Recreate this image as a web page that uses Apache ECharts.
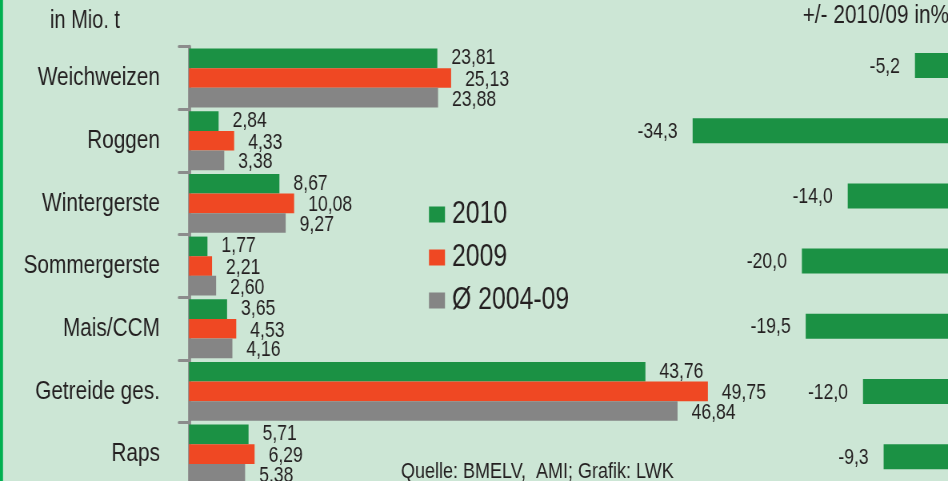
<!DOCTYPE html>
<html>
<head>
<meta charset="utf-8">
<script src="https://cdn.jsdelivr.net/npm/echarts@6/dist/echarts.min.js"></script>
<style>
html,body{margin:0;padding:0;background:#cce6d5;overflow:hidden;width:948px;height:481px;}
#c{width:1185px;height:481px;transform:scaleX(0.8);transform-origin:0 0;}
</style>
</head>
<body>
<div id="c"></div>
<script>
const categories = ['Weichweizen','Roggen','Wintergerste','Sommergerste','Mais/CCM','Getreide ges.','Raps'];
const v2010 = [23.81, 2.84, 8.67, 1.77, 3.65, 43.76, 5.71];
const v2009 = [25.13, 4.33, 10.08, 2.21, 4.53, 49.75, 6.29];
const vAvg  = [23.88, 3.38, 9.27, 2.60, 4.16, 46.84, 5.38];
const change = [-5.2, -34.3, -14.0, -20.0, -19.5, -12.0, -9.3];
const seriesNames = ['2010', '2009', 'Ø 2004-09'];

// horizontal condensing of the whole drawing (the reference uses a condensed typeface)
const SX = 0.8;
const X = v => v / SX;   // final screen px -> chart px

const FONT = '"Liberation Sans",Arial,sans-serif';
const TXT = '#231f20';
const GREEN = '#1b9144', RED = '#ef4823', GREY = '#858585';

const fmt2 = p => p.value.toFixed(2).replace('.', ',');
const fmt1 = p => p.value.toFixed(1).replace('.', ',');

const chart = echarts.init(document.getElementById('c'));
const labelStyle = {show:true, position:'right', distance:X(14), fontFamily:FONT, fontSize:22, color:TXT, formatter:fmt2};

chart.setOption({
  backgroundColor:'#cce6d5',
  animation:false,
  textStyle:{fontFamily:FONT},
  legend:{
    orient:'vertical', left:X(429), top:199, padding:0, itemWidth:X(16), itemHeight:16, itemGap:12,
    icon:'rect', selectedMode:false, data:seriesNames,
    textStyle:{fontFamily:FONT, fontSize:31, color:TXT, lineHeight:30, padding:[0,0,0,X(3)]}
  },
  grid:[
    {left:X(189), top:46.7, width:X(521.5), height:438.7, containLabel:false, outerBoundsMode:'none'},
    {left:X(649.1), top:32.9, width:X(305.6), height:456.4, containLabel:false, outerBoundsMode:'none'}
  ],
  xAxis:[
    {gridIndex:0, type:'value', min:0, max:50, show:false},
    {gridIndex:1, type:'value', min:-40, max:0, show:false}
  ],
  yAxis:[
    {gridIndex:0, type:'category', data:categories, inverse:true,
     axisLine:{show:true, lineStyle:{color:'#8c8c8c', width:X(3)}},
     axisTick:{show:true, length:X(10), lineStyle:{color:'#8c8c8c', width:3, cap:'round'}},
     axisLabel:{margin:X(29), fontFamily:FONT, fontSize:26, color:TXT}},
    {gridIndex:1, type:'category', data:categories, inverse:true, show:false}
  ],
  series:[
    {name:seriesNames[0], type:'bar', xAxisIndex:0, yAxisIndex:0, data:v2010, barGap:'0%', barCategoryGap:'6%',
     itemStyle:{color:GREEN}, label:Object.assign({}, labelStyle, {offset:[0,0]})},
    {name:seriesNames[1], type:'bar', xAxisIndex:0, yAxisIndex:0, data:v2009, barGap:'0%', barCategoryGap:'6%',
     itemStyle:{color:RED}, label:Object.assign({}, labelStyle, {offset:[0,2]})},
    {name:seriesNames[2], type:'bar', xAxisIndex:0, yAxisIndex:0, data:vAvg, barGap:'0%', barCategoryGap:'6%',
     itemStyle:{color:GREY}, label:Object.assign({}, labelStyle, {offset:[0,2]})},
    {name:'change', type:'bar', xAxisIndex:1, yAxisIndex:1, data:change, barWidth:25,
     itemStyle:{color:GREEN},
     label:{show:true, position:'left', distance:X(15), fontFamily:FONT, fontSize:22, color:TXT, formatter:fmt1, offset:[0,1]}}
  ],
  graphic:[
    {type:'rect', left:0, top:0, shape:{width:X(3), height:481}, style:{fill:'#00b050'}},
    {type:'text', left:X(50), top:9, style:{text:'in Mio. t', fontFamily:FONT, fontSize:25, fill:TXT}},
    {type:'text', right:X(-1), top:3, style:{text:'+/- 2010/09 in%', fontFamily:FONT, fontSize:26, fill:TXT}},
    {type:'text', left:X(401), top:460, style:{text:'Quelle: BMELV,  AMI; Grafik: LWK', fontFamily:FONT, fontSize:22.5, fill:TXT}}
  ]
});
</script>
</body>
</html>
